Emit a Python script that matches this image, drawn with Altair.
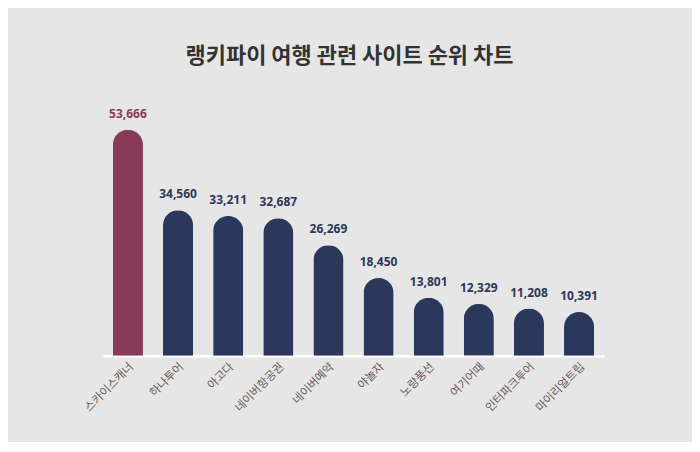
import altair as alt
import pandas as pd

categories = ["스카이스캐너", "하나투어", "아고다", "네이버항공권", "네이버예약",
              "야놀자", "노랑풍선", "여기어때", "인터파크투어", "마이리얼트립"]
values = [53666, 34560, 33211, 32687, 26269, 18450, 13801, 12329, 11208, 10391]
groups = ["top"] + ["rest"] * 9

df = pd.DataFrame({"site": categories, "value": values, "group": groups})

x = alt.X("site:N", sort=categories, title=None,
          scale=alt.Scale(paddingInner=0.4, paddingOuter=0.2),
          axis=alt.Axis(labelAngle=-45, labelAlign="right", labelBaseline="middle",
                        labelColor="#6b5a5a", labelFontSize=11.5, labelFont="Noto Sans CJK KR",
                        labelPadding=9, labelOffset=4, ticks=False,
                        domainColor="#ffffff", domainWidth=2.5))
y = alt.Y("value:Q", scale=alt.Scale(domain=[0, 60000]), axis=None)

bars = alt.Chart(df).mark_bar(cornerRadiusTopLeft=15, cornerRadiusTopRight=15).encode(
    x=x, y=y,
    color=alt.Color("group:N", scale=alt.Scale(domain=["top", "rest"], range=["#8a3a58", "#2b375c"]), legend=None),
)

labels = alt.Chart(df).mark_text(baseline="bottom", dy=-9, fontSize=12, fontWeight="bold",
                                 font="Open Sans").encode(
    x=alt.X("site:N", sort=categories),
    y="value:Q",
    text=alt.Text("value:Q", format=","),
    color=alt.Color("group:N", scale=alt.Scale(domain=["top", "rest"], range=["#7a2a48", "#1f2a4f"]), legend=None),
)

chart = (bars + labels).properties(
    width=502, height=253,
    background="#e6e6e6",
    padding={"left": 95, "right": 88, "top": 95, "bottom": 86},
    autosize=alt.AutoSizeParams(type="none"),
    title=alt.TitleParams("랭키파이 여행 관련 사이트 순위 차트", font="Noto Sans CJK KR",
                          fontSize=22, fontWeight="bold", color="#333333",
                          anchor="middle", offset=35, dx=-4),
).configure_view(stroke=None)

chart.save("out.html", embed_options={"renderer": "svg", "actions": False})
